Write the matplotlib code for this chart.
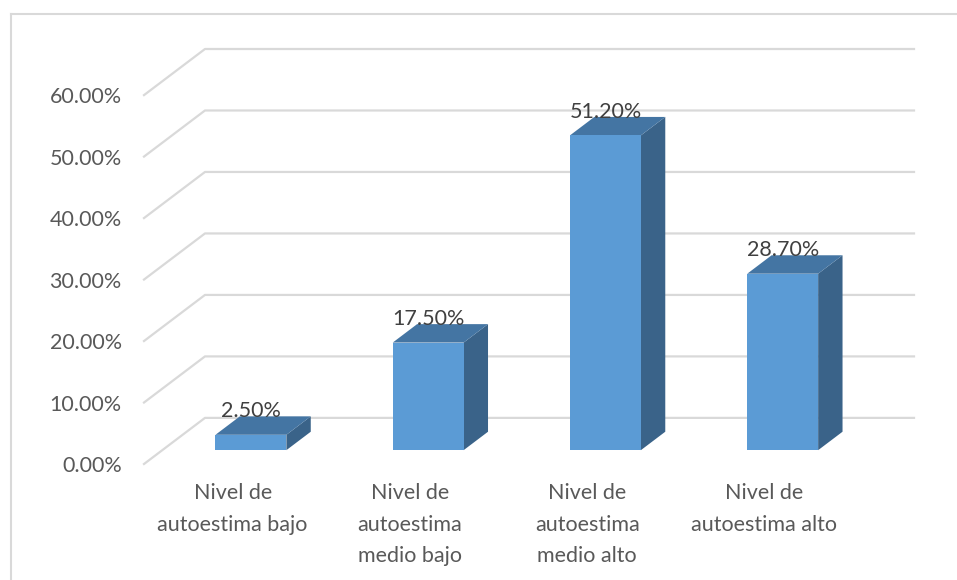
import matplotlib
matplotlib.use('Agg')
import matplotlib.pyplot as plt
from matplotlib.patches import Polygon, Rectangle
from matplotlib.lines import Line2D

# data
categorias = ['Nivel de\nautoestima bajo', 'Nivel de\nautoestima\nmedio bajo',
              'Nivel de\nautoestima\nmedio alto', 'Nivel de\nautoestima alto']
valores = [2.5, 17.5, 51.2, 28.7]
ticks = [0, 10, 20, 30, 40, 50, 60]
tick_labels = ['0.00%', '10.00%', '20.00%', '30.00%', '40.00%', '50.00%', '60.00%']

plt.rcParams['font.family'] = ['Lato', 'DejaVu Sans']

W, H = 957, 580
fig = plt.figure(figsize=(W/100, H/100), dpi=100)

# 3d look: depth offset of the floor in data units
D = 0.344    # x depth (category units)
DY = 7.5     # y depth (percent units)
f0, f1 = 0.3, 0.7   # bar depth range as fraction of the floor depth
bw = 0.40
fs = 15.5

left, right = 144/W, 914/W
bottom, top = (H-464)/H, (H-49)/H
ax = fig.add_axes([left, bottom, right-left, top-bottom])
ax.set_xlim(-0.5, 3.5 + D)
ax.set_ylim(0, 60 + DY)
for s in ax.spines.values():
    s.set_visible(False)

grid_c = '#D9D9D9'
for t in ticks:
    ax.plot([-0.5, -0.5 + D, 3.5 + D], [t, t + DY, t + DY], color=grid_c,
            lw=1.6, clip_on=False, zorder=1)

front_c = '#5B9BD5'
top_c = '#4475A3'
side_c = '#3A6389'
for i, v in enumerate(valores):
    xl = i - bw/2 + f0*D
    xr = i + bw/2 + f0*D
    y0 = f0*DY
    bd, bdy = (f1 - f0)*D, (f1 - f0)*DY
    ax.add_patch(Polygon([(xr, y0), (xr, y0 + v), (xr + bd, y0 + v + bdy), (xr + bd, y0 + bdy)],
                         closed=True, fc=side_c, ec='none', zorder=3))
    ax.add_patch(Polygon([(xl, y0 + v), (xr, y0 + v), (xr + bd, y0 + v + bdy), (xl + bd, y0 + v + bdy)],
                         closed=True, fc=top_c, ec='none', zorder=3))
    ax.add_patch(Rectangle((xl, y0), xr - xl, v, fc=front_c, ec='none', zorder=4))
    ax.annotate(f'{v:.2f}%', (i + f0*D, y0 + v), xytext=(0, 17), textcoords='offset points',
                ha='center', va='center', fontsize=fs, color='#404040', zorder=5)

ax.set_yticks(ticks)
ax.set_yticklabels(tick_labels, fontsize=fs, color='#595959')
ax.set_xticks(range(len(categorias)))
ax.set_xticklabels(categorias, fontsize=fs, color='#595959', linespacing=1.7)
ax.tick_params(axis='y', length=0, pad=16)
ax.tick_params(axis='x', length=0, pad=14)

# outer chart border (only top and left visible)
fig.add_artist(Line2D([10.5/W, 1], [1 - 13.5/H, 1 - 13.5/H], color=grid_c, lw=1.5))
fig.add_artist(Line2D([10.5/W, 10.5/W], [0, 1 - 13.5/H], color=grid_c, lw=1.5))

fig.savefig('out.png', dpi=100)
